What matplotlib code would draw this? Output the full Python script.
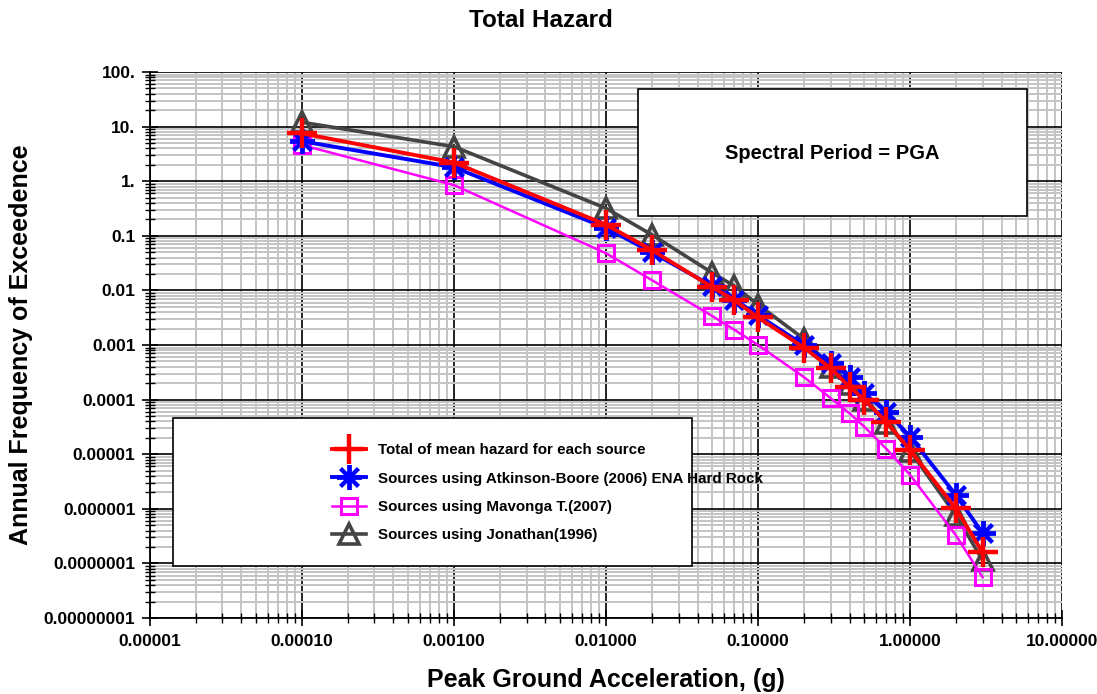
import numpy as np
import matplotlib
matplotlib.use("Agg")
import matplotlib.pyplot as plt
from matplotlib.patches import Rectangle
from matplotlib.ticker import FixedLocator, FixedFormatter, LogLocator, NullFormatter

plt.rcParams['font.family'] = ['Liberation Sans', 'DejaVu Sans']
plt.rcParams['font.weight'] = 'bold'

# peak ground acceleration (g)
pga = [0.0001, 0.001, 0.01, 0.02, 0.05, 0.07, 0.1, 0.2, 0.3, 0.4, 0.5, 0.7, 1.0, 2.0, 3.0]

# annual frequency of exceedence for each curve
total_mean = [7.5, 2.2, 0.16, 0.055, 0.0115, 0.0066, 0.0032, 0.0009, 0.00038,
              0.00017, 0.0001, 0.000039, 0.000012, 1.02e-6, 1.6e-7]
atkinson_boore = [5.4, 1.8, 0.14, 0.05, 0.012, 0.0068, 0.0035, 0.001, 0.00047,
                  0.00026, 0.00013, 0.00006, 0.000021, 1.8e-6, 3.6e-7]
mavonga = [4.6, 0.85, 0.048, 0.0155, 0.0034, 0.0019, 0.001, 0.00026, 0.000107,
           0.000056, 0.000032, 0.0000125, 0.0000042, 3.3e-7, 5.6e-8]
jonathan = [12.0, 4.3, 0.32, 0.105, 0.021, 0.012, 0.0055, 0.0013, 0.0004,
            0.00019, 0.0001, 0.000038, 0.0000115, 7.7e-7, 1.15e-7]

labels = ["Total of mean hazard for each source",
          "Sources using Atkinson-Boore (2006) ENA Hard Rock",
          "Sources using Mavonga T.(2007)",
          "Sources using Jonathan(1996)"]

x_ticks = [1e-5, 1e-4, 1e-3, 1e-2, 1e-1, 1.0, 10.0]
x_tick_labels = ["0.00001", "0.00010", "0.00100", "0.01000", "0.10000", "1.00000", "10.00000"]
y_ticks = [1e2, 1e1, 1e0, 1e-1, 1e-2, 1e-3, 1e-4, 1e-5, 1e-6, 1e-7, 1e-8]
y_tick_labels = ["100.", "10.", "1.", "0.1", "0.01", "0.001", "0.0001", "0.00001",
                 "0.000001", "0.0000001", "0.00000001"]

fig = plt.figure(figsize=(10.97, 6.94), dpi=100)
ax = fig.add_axes([0.1367, 0.1095, 0.8314, 0.7867])
ax.set_xscale('log')
ax.set_yscale('log')
ax.set_xlim(1e-5, 10)
ax.set_ylim(1e-8, 100)

# grid: grey minor lines under black decade lines
ax.xaxis.set_major_locator(FixedLocator(x_ticks))
ax.xaxis.set_major_formatter(FixedFormatter(x_tick_labels))
ax.yaxis.set_major_locator(FixedLocator(y_ticks))
ax.yaxis.set_major_formatter(FixedFormatter(y_tick_labels))
ax.xaxis.set_minor_locator(LogLocator(base=10, subs=np.arange(2, 10), numticks=20))
ax.yaxis.set_minor_locator(LogLocator(base=10, subs=np.arange(2, 10), numticks=20))
ax.xaxis.set_minor_formatter(NullFormatter())
ax.yaxis.set_minor_formatter(NullFormatter())
ax.grid(which='minor', color='#c4c4c4', linewidth=1.4, zorder=0)
ax.grid(which='major', color='black', linewidth=1.2, zorder=0)
ax.set_axisbelow(True)

ax.tick_params(which='major', direction='inout', length=11, width=1.2, labelsize=12.5,
               top=False, right=False)
ax.tick_params(which='minor', direction='inout', length=7, width=1.0, top=False, right=False)
ax.tick_params(axis='y', which='major', pad=5)
ax.tick_params(axis='x', which='major', pad=6)
for s in ['top', 'right']:
    ax.spines[s].set_visible(False)
for s in ['left', 'bottom']:
    ax.spines[s].set_linewidth(1.3)

# curves
h_gray, = ax.plot(pga, jonathan, color='#444444', lw=2.6, marker='^', ms=15,
                  mfc='none', mec='#444444', mew=2.6, zorder=3)
h_mag, = ax.plot(pga, mavonga, color='#ff00ff', lw=1.8, marker='s', ms=11,
                 mfc='none', mec='#ff00ff', mew=2.2, zorder=4)
h_blue, = ax.plot(pga, atkinson_boore, color='#0000ff', lw=2.8, marker=(8, 2, 0), ms=18,
                  mec='#0000ff', mew=2.8, zorder=5)
h_red, = ax.plot(pga, total_mean, color='#ff0000', lw=2.8, marker='+', ms=21,
                 mec='#ff0000', mew=3.2, zorder=6)

# annotation box
ax.add_patch(Rectangle((0.535, 0.736), 0.4266, 0.233, transform=ax.transAxes,
                       facecolor='white', edgecolor='black', lw=1.2, zorder=7))
ax.text(0.748, 0.85, "Spectral Period = PGA", transform=ax.transAxes, ha='center',
        va='center', fontsize=14.5, fontweight='bold', zorder=8)

# legend box
ax.add_patch(Rectangle((0.0252, 0.095), 0.569, 0.271, transform=ax.transAxes,
                       facecolor='white', edgecolor='black', lw=1.2, zorder=7))
leg = ax.legend([h_red, h_blue, h_mag, h_gray], labels, loc='upper left',
                bbox_to_anchor=(0.185, 0.345), frameon=False, fontsize=10.9,
                handlelength=2.2, labelspacing=0.95, handletextpad=0.8)
leg.set_zorder(9)

fig.text(0.493, 0.971, "Total Hazard", ha='center', va='center', fontsize=17.5,
         fontweight='bold')
ax.set_xlabel("Peak Ground Acceleration, (g)", fontsize=18, fontweight='bold', labelpad=14)
ax.set_ylabel("Annual Frequency of Exceedence", fontsize=18, fontweight='bold')
ax.yaxis.set_label_coords(-0.128, 0.5)

fig.savefig("out.png", dpi=100)
